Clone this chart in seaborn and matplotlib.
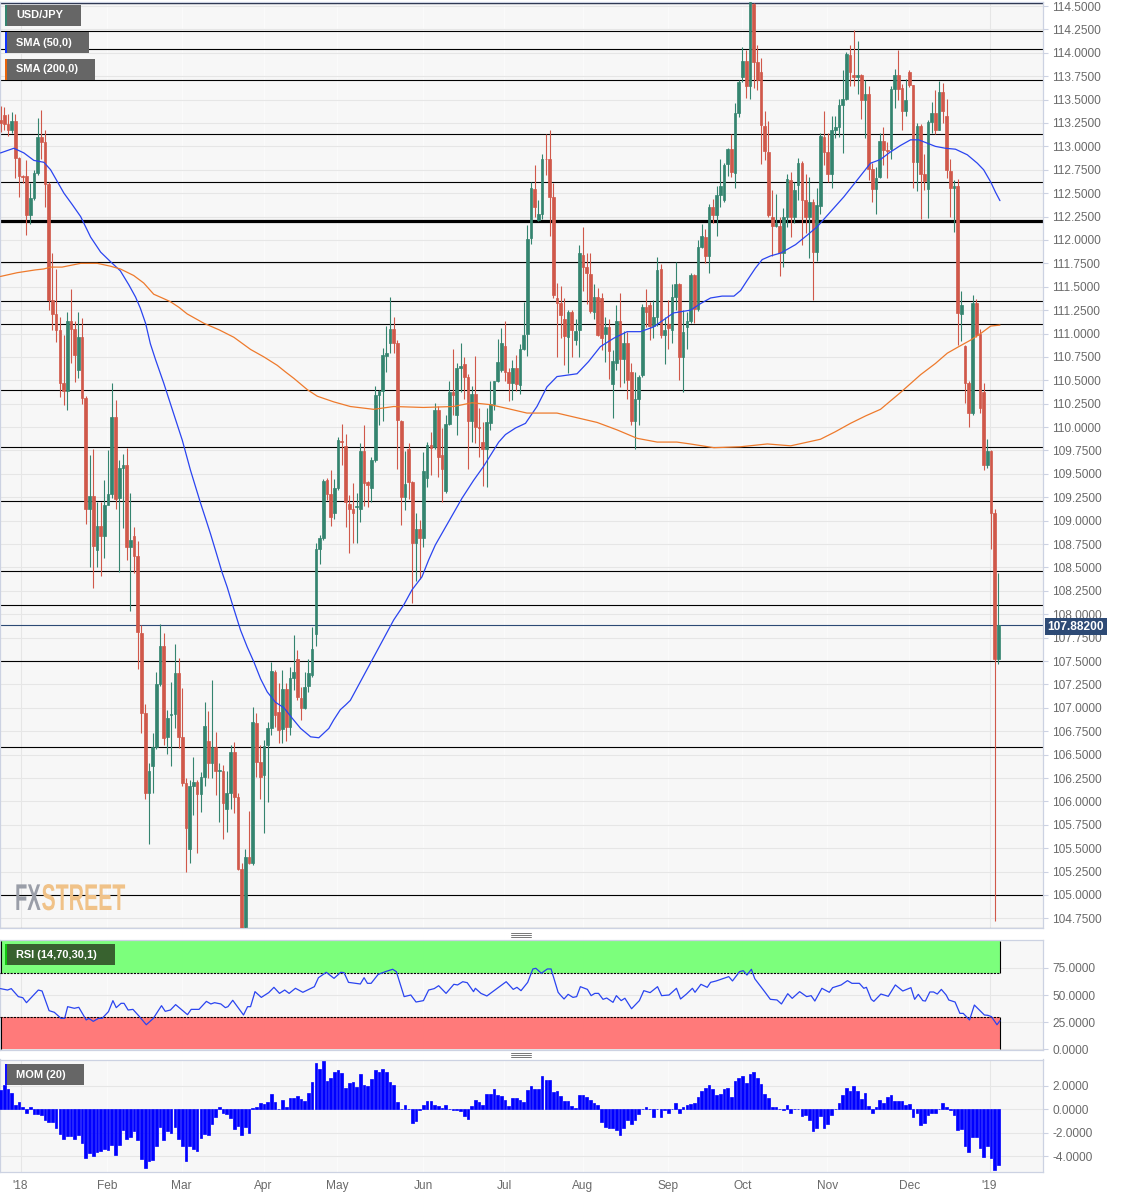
import numpy as np
import pandas as pd
import matplotlib
matplotlib.use("Agg")
import matplotlib.pyplot as plt
from matplotlib.patches import Rectangle
from matplotlib.patheffects import AbstractPathEffect
from matplotlib.transforms import Affine2D
import seaborn as sns

# Daily USD/JPY candles
opens = [
    113.28, 113.34, 113.24, 113.17, 113.27, 112.88, 112.68, 112.68, 112.27, 112.45,
    112.72, 113.10, 113.05, 112.60, 111.36, 111.21, 111.04, 110.47, 110.39, 111.13,
    111.05, 110.61, 110.96, 110.31, 109.13, 109.26, 108.69, 108.94, 108.84, 109.17,
    109.29, 110.11, 109.24, 109.56, 109.59, 108.72, 108.84, 108.62, 107.80, 106.94,
    106.09, 106.38, 106.58, 107.25, 107.66, 106.69, 106.92, 106.93, 107.37, 106.69,
    106.20, 105.49, 106.16, 106.21, 106.08, 106.26, 106.65, 106.41, 106.58, 106.32,
    106.33, 105.92, 106.09, 106.53, 106.05, 105.28, 104.66, 105.41, 105.34, 106.84,
    106.42, 106.28, 106.60, 106.78, 107.38, 106.96, 106.77, 107.20, 106.80, 107.32,
    107.52, 107.11, 107.00, 107.23, 107.35, 107.79, 108.70, 108.81, 109.43, 109.29,
    109.08, 109.35, 109.85, 109.80, 109.18, 109.12, 109.15, 109.12, 109.74, 109.41,
    109.35, 109.65, 110.34, 110.39, 110.76, 110.90, 111.05, 110.90, 110.07, 109.25,
    109.77, 109.41, 108.76, 108.91, 108.81, 109.46, 109.81, 109.79, 110.18, 109.70,
    109.32, 110.03, 110.37, 110.13, 110.63, 110.67, 110.54, 110.06, 110.35, 110.00,
    109.84, 109.77, 110.04, 110.25, 110.49, 110.61, 110.87, 110.59, 110.47, 110.63,
    110.45, 110.84, 110.99, 112.02, 112.54, 112.21, 112.28, 112.87, 112.87, 112.46,
    111.38, 111.33, 111.16, 110.96, 111.23, 110.93, 111.04, 111.84, 111.71, 111.64,
    111.23, 111.39, 111.38, 111.00, 111.07, 110.46, 110.68, 111.13, 110.73, 110.90,
    110.59, 110.06, 110.30, 110.56, 111.28, 111.31, 111.08, 111.18, 111.69, 110.98,
    111.10, 111.04, 111.39, 111.53, 110.75, 111.07, 111.13, 111.63, 111.26, 111.92,
    112.03, 111.83, 112.35, 112.27, 112.48, 112.43, 112.81, 112.97, 112.72, 113.36,
    113.74, 113.91, 113.64, 114.52, 113.90, 113.79, 113.22, 112.94, 112.25, 112.15,
    112.15, 111.86, 112.24, 112.64, 112.25, 112.59, 112.82, 112.43, 112.25, 112.41,
    111.87, 112.36, 113.10, 112.94, 112.71, 113.17, 113.21, 113.44, 113.51, 113.98,
    113.76, 113.74, 113.76, 113.50, 113.56, 112.76, 112.54, 112.67, 113.06, 112.96,
    112.97, 113.61, 113.76, 113.62, 113.38, 113.80, 113.66, 112.83, 113.22, 112.70,
    112.54, 113.26, 113.36, 113.18, 113.58, 113.33, 112.74, 112.55, 112.58, 111.21,
    110.87, 110.47, 110.15, 111.33, 110.99, 110.37, 109.60, 109.74, 109.08, 107.52,
]
closes = [
    113.25, 113.24, 113.17, 113.27, 112.88, 112.68, 112.67, 112.27, 112.45, 112.72,
    113.10, 113.05, 112.60, 111.36, 111.21, 111.04, 110.47, 110.39, 111.13, 111.05,
    110.77, 110.96, 110.31, 109.13, 109.26, 108.73, 108.94, 108.84, 109.17, 109.29,
    110.11, 109.23, 109.56, 109.59, 108.72, 108.79, 108.62, 107.81, 106.94, 106.09,
    106.32, 106.58, 107.25, 107.66, 106.68, 106.89, 106.93, 107.37, 106.69, 106.20,
    105.72, 106.16, 106.21, 106.08, 106.26, 106.81, 106.41, 106.58, 106.32, 106.34,
    105.98, 106.09, 106.53, 106.05, 105.28, 104.64, 105.41, 105.34, 106.85, 106.42,
    106.26, 106.59, 106.78, 107.39, 106.92, 106.76, 107.20, 106.80, 107.32, 107.38,
    107.12, 107.00, 107.22, 107.37, 107.63, 108.70, 108.81, 109.42, 109.29, 109.04,
    109.35, 109.86, 109.84, 109.20, 109.12, 109.08, 109.16, 109.74, 109.40, 109.38,
    109.65, 110.34, 110.39, 110.77, 110.79, 111.05, 110.90, 110.08, 109.25, 109.39,
    109.41, 108.76, 108.91, 108.82, 109.53, 109.81, 109.78, 110.18, 109.68, 109.55,
    110.03, 110.37, 110.34, 110.63, 110.65, 110.54, 110.06, 110.35, 110.00, 109.99,
    109.77, 110.05, 110.25, 110.49, 110.70, 110.90, 110.59, 110.47, 110.63, 110.46,
    110.84, 110.98, 112.01, 112.55, 112.35, 112.28, 112.87, 112.86, 112.46, 111.41,
    111.33, 111.20, 110.97, 111.23, 111.04, 111.03, 111.86, 111.71, 111.65, 111.24,
    111.39, 110.98, 110.95, 111.07, 110.81, 110.71, 111.13, 110.73, 110.90, 110.50,
    110.06, 110.30, 110.54, 111.28, 111.23, 111.08, 111.18, 111.68, 110.98, 111.04,
    111.06, 111.39, 111.53, 110.75, 111.02, 111.13, 111.63, 111.26, 111.93, 112.04,
    111.83, 112.35, 112.27, 112.48, 112.58, 112.80, 112.97, 112.73, 113.36, 113.69,
    113.91, 113.64, 114.54, 113.90, 113.71, 113.23, 112.95, 112.27, 112.15, 112.18,
    111.86, 112.24, 112.65, 112.25, 112.53, 112.82, 112.43, 112.25, 112.41, 111.87,
    112.37, 113.11, 112.94, 112.71, 113.17, 113.21, 113.44, 113.51, 113.99, 113.79,
    113.74, 113.76, 113.50, 113.56, 112.76, 112.54, 112.66, 113.06, 112.96, 112.95,
    113.61, 113.76, 113.61, 113.38, 113.50, 113.66, 112.83, 113.22, 112.70, 112.63,
    113.26, 113.36, 113.18, 113.58, 113.38, 112.75, 112.55, 112.58, 111.22, 111.30,
    110.47, 110.15, 111.33, 110.98, 110.20, 109.60, 109.74, 109.08, 107.52, 107.88,
]
highs = [
    113.43, 113.42, 113.35, 113.37, 113.35, 112.89, 112.69, 112.85, 112.61, 112.75,
    113.30, 113.39, 113.17, 112.62, 111.86, 111.69, 111.18, 110.98, 111.23, 111.48,
    111.13, 111.23, 111.17, 110.33, 109.70, 109.77, 109.20, 109.20, 109.44, 109.75,
    110.47, 110.29, 109.65, 109.71, 109.78, 109.30, 108.93, 108.78, 107.89, 107.04,
    106.41, 106.73, 107.38, 107.90, 107.80, 106.98, 107.28, 107.68, 107.53, 107.21,
    106.25, 106.23, 106.47, 106.23, 106.31, 107.06, 106.97, 107.30, 106.74, 106.41,
    106.39, 106.32, 106.60, 106.64, 106.09, 105.34, 105.49, 105.90, 107.01, 106.94,
    106.60, 106.66, 106.85, 107.49, 107.40, 107.26, 107.40, 107.26, 107.44, 107.78,
    107.62, 107.22, 107.38, 107.52, 107.86, 108.76, 108.85, 109.45, 109.46, 109.54,
    109.45, 109.89, 110.03, 109.93, 109.27, 109.40, 109.30, 109.83, 110.02, 109.42,
    109.68, 110.44, 110.40, 110.85, 111.08, 111.39, 111.18, 110.93, 110.08, 109.74,
    109.83, 109.42, 109.08, 109.01, 109.73, 109.84, 109.95, 110.26, 110.23, 109.99,
    110.13, 110.49, 110.84, 110.69, 110.90, 110.75, 110.57, 110.44, 110.76, 110.20,
    110.05, 110.20, 110.49, 110.49, 110.94, 111.06, 111.13, 110.63, 110.72, 110.77,
    110.89, 111.34, 112.16, 112.62, 112.80, 112.43, 112.92, 113.13, 113.17, 112.61,
    111.54, 111.51, 111.38, 111.25, 111.25, 111.16, 111.95, 112.14, 111.86, 111.86,
    111.53, 111.49, 111.43, 111.18, 111.16, 110.82, 111.30, 111.43, 111.03, 111.02,
    110.69, 110.59, 110.56, 111.32, 111.48, 111.34, 111.36, 111.82, 111.74, 111.18,
    111.36, 111.53, 111.76, 111.54, 111.25, 111.23, 111.65, 111.64, 112.00, 112.17,
    112.12, 112.38, 112.44, 112.58, 112.87, 112.82, 112.98, 113.13, 113.46, 113.71,
    114.06, 114.03, 114.54, 114.53, 114.08, 113.94, 113.38, 113.27, 112.53, 112.49,
    112.25, 112.34, 112.71, 112.73, 112.62, 112.88, 112.84, 112.71, 112.67, 112.44,
    112.56, 113.14, 113.38, 113.14, 113.32, 113.33, 113.51, 113.82, 114.01, 114.08,
    114.24, 114.13, 113.77, 113.71, 113.64, 112.82, 112.78, 113.14, 113.21, 113.05,
    113.65, 113.83, 114.03, 113.67, 113.72, 113.82, 113.66, 113.25, 113.24, 112.92,
    113.28, 113.47, 113.60, 113.70, 113.68, 113.51, 112.86, 112.64, 112.65, 111.45,
    110.88, 110.49, 111.41, 111.37, 111.05, 110.47, 109.87, 109.76, 109.12, 108.44,
]
lows = [
    113.15, 113.18, 113.11, 113.14, 112.66, 112.46, 112.61, 112.05, 112.17, 112.43,
    112.69, 112.87, 112.35, 111.25, 111.04, 110.91, 110.32, 110.24, 110.18, 110.68,
    110.48, 110.52, 110.25, 108.96, 108.50, 108.28, 108.51, 108.41, 108.60, 109.19,
    109.24, 109.12, 108.45, 108.92, 108.58, 108.04, 108.44, 107.41, 106.73, 106.03,
    105.55, 106.09, 106.56, 107.23, 106.60, 106.51, 106.38, 106.78, 106.57, 106.16,
    105.25, 105.34, 105.85, 105.45, 105.89, 106.16, 106.25, 106.25, 106.07, 105.78,
    105.60, 105.67, 105.92, 105.88, 105.27, 104.63, 104.62, 105.33, 105.32, 106.26,
    106.03, 105.66, 105.99, 106.71, 106.80, 106.62, 106.62, 106.65, 106.71, 107.19,
    107.08, 106.87, 106.99, 107.17, 107.33, 107.66, 108.54, 108.79, 109.22, 108.94,
    109.02, 109.33, 109.59, 108.93, 108.65, 108.76, 108.76, 108.99, 109.16, 109.15,
    109.20, 109.63, 110.02, 110.07, 110.59, 110.79, 110.79, 109.55, 108.95, 109.11,
    109.23, 108.12, 108.35, 108.38, 108.72, 109.36, 109.49, 109.77, 109.47, 109.20,
    109.30, 110.02, 110.13, 109.92, 110.38, 110.30, 109.55, 109.84, 109.83, 109.68,
    109.37, 109.36, 109.97, 110.18, 110.48, 110.59, 110.49, 110.28, 110.29, 110.39,
    110.35, 110.82, 110.76, 111.96, 112.25, 112.20, 112.22, 112.69, 112.04, 111.38,
    110.75, 110.95, 110.66, 110.58, 110.75, 110.88, 110.75, 111.45, 111.32, 111.22,
    111.15, 110.97, 110.82, 110.70, 110.51, 110.10, 110.61, 110.43, 110.47, 110.30,
    110.02, 109.77, 110.02, 110.54, 111.07, 110.93, 110.95, 111.08, 110.95, 110.67,
    110.84, 110.90, 111.25, 110.50, 110.37, 110.84, 111.11, 111.11, 111.24, 111.91,
    111.75, 111.65, 112.18, 112.04, 112.35, 112.41, 112.68, 112.67, 112.55, 113.31,
    113.69, 113.52, 113.51, 113.62, 113.60, 112.81, 112.85, 112.25, 111.83, 112.14,
    111.61, 111.71, 112.14, 112.03, 112.18, 112.43, 111.95, 112.07, 111.81, 111.36,
    111.77, 112.28, 112.80, 112.62, 112.55, 113.09, 113.10, 112.93, 113.50, 113.64,
    113.65, 113.56, 113.29, 113.09, 112.64, 112.41, 112.28, 112.66, 112.80, 112.66,
    112.87, 113.41, 113.50, 113.17, 113.33, 113.63, 112.56, 112.52, 112.22, 112.53,
    112.23, 113.14, 113.13, 113.17, 113.25, 112.66, 112.25, 112.08, 110.88, 110.92,
    110.26, 110.00, 110.13, 110.96, 110.15, 109.54, 109.56, 108.70, 104.72, 107.47,
]

# Moving averages, read at the places where the curves bend (sorted by lineplot)
sma50_x = [0, 3.6, 6.3, 9, 11.7, 13.5, 17.1, 21.6, 27, 32.3, 36.4, 39.1, 41.8, 46.7, 51.2,
           53.9, 56.6, 59.7, 62.4, 64.7, 68.3, 71.9, 76.4, 80.9, 83.6, 85.8, 88.5, 91.6, 94.3,
           106, 110.9, 113.6, 117.2, 124.4, 130.2, 134.3, 136.1, 141.5, 147.3, 150, 155.4,
           161.7, 168.9, 172.5, 176, 181.4, 186, 191.4, 197.7, 201.3, 205.3, 210.3, 214.3,
           220.1, 227.3, 234.5, 239.5, 245.3, 247.5, 252, 257.4, 263.3, 266.9, 269.4,
           19.3, 24.3, 29.6, 34.6, 37.7, 40.4, 44, 49, 55.3, 58.2, 61.1, 66.5, 70.1, 74.1, 78.6,
           89.8, 93, 108.7, 115.4, 120.8, 127.5, 138.8, 144.6, 158.5, 165.3, 188.7, 194.5, 199.5,
           203.5, 207.6, 217.4, 223.7, 230.9, 237.2, 242.6, 254.7, 260.6, 265, 268.2]
sma50 = [112.93, 112.98, 112.93, 112.85, 112.83, 112.75, 112.50, 112.25, 111.87, 111.67, 111.39,
         111.11, 110.72, 110.14, 109.54, 109.19, 108.86, 108.45, 108.12, 107.83, 107.49, 107.17,
         107.00, 106.78, 106.69, 106.68, 106.78, 106.98, 107.08, 107.94, 108.26, 108.40, 108.74,
         109.24, 109.58, 109.84, 109.92, 110.04, 110.43, 110.54, 110.57, 110.86, 111.02, 111.02,
         111.07, 111.22, 111.25, 111.38, 111.40, 111.57, 111.79, 111.86, 111.95, 112.14, 112.46,
         112.82, 112.93, 113.07, 113.07, 113.00, 112.97, 112.82, 112.62, 112.42,
         112.38, 112.03, 111.77, 111.52, 111.27, 110.89, 110.47, 109.86, 109.02, 108.65, 108.29,
         107.65, 107.31, 107.06, 106.89, 106.87, 107.03, 108.10, 108.58, 108.99, 109.43, 109.99,
         110.22, 110.70, 110.95, 111.32, 111.40, 111.46, 111.70, 111.83, 112.05, 112.30, 112.64,
         112.86, 113.01, 112.98, 112.91, 112.75, 112.51]
sma200_x = [0, 4.5, 9.4, 13.5, 16.6, 21.6, 26.1, 32.3, 35.9, 41.3, 45.8, 50.3, 54.8, 62.9, 67.4,
            74.6, 79.1, 82.7, 85.4, 89.8, 94.3, 100.6, 106, 114, 122.1, 127.1, 132, 141.9, 150,
            160.8, 171.6, 177, 182.3, 185.9, 192.3, 199.5, 206.7, 213, 221, 229.1, 237.2, 248,
            255.2, 261.5, 266.9, 269.4,
            11.7, 29.6, 38.6, 43.6, 48.1, 58.9, 71, 76.8, 87.6, 136.5, 155.4, 166.2,
            225, 233.2, 242.6, 252, 258.3, 264.2]
sma200 = [111.61, 111.65, 111.68, 111.71, 111.71, 111.75, 111.75, 111.69, 111.62, 111.42, 111.34,
          111.21, 111.11, 110.96, 110.83, 110.66, 110.52, 110.40, 110.33, 110.27, 110.22, 110.19,
          110.22, 110.21, 110.22, 110.26, 110.24, 110.15, 110.15, 110.05, 109.88, 109.84, 109.84,
          109.82, 109.78, 109.79, 109.82, 109.80, 109.87, 110.04, 110.19, 110.56, 110.79, 110.93,
          111.08, 111.09,
          111.69, 111.72, 111.54, 111.38, 111.28, 111.04, 110.75, 110.59, 110.30, 110.20, 110.10,
          109.97, 109.95, 110.12, 110.37, 110.68, 110.86, 111.00]

rsi_x = [0, 1.9, 2.9, 4.8, 6, 7, 10.2, 11.2, 13.1, 14.5, 16.3, 17.3, 18.1, 19.9, 21.1, 23.1, 23.8,
         25, 26.4, 27.4, 29.1, 30.3, 31.2, 32.5, 33.3, 34.4, 35.7, 37.3, 39.3, 41.2, 43.4, 44.4,
         45.8, 47.2, 50.4, 51.4, 53.5, 55.5, 56.7, 57.7, 59.4, 60.6, 61.3, 62.6, 65.5, 66.6, 67.4,
         68.6, 70.3, 72.3, 73.7, 75.2, 76.6, 77.8, 79.5, 81.5, 84.6, 85.7, 87.8, 89.9, 91.7, 92.6,
         93.8, 97, 98, 98.9, 99.9, 101.8, 104, 105.7, 106.7, 108.8, 110.6, 112, 114, 115.4, 116.9,
         118.1, 120.1, 122.2, 123.2, 124.6, 125.8, 127.5, 128, 129.5, 131.1, 136.3, 138.2, 139.2,
         140.3, 142.1, 143.5, 144.3, 145.8, 147.4, 148.4, 150.3, 150.9, 151.9, 153, 154.3, 155.3,
         156.3, 158.2, 159.2, 160.2, 161.2, 162.4, 163.4, 165.1, 166, 167.3, 168.3, 170.1, 172.2,
         173.4, 175.1, 177.1, 178.2, 180.2, 182.2, 183.3, 184.9, 186.5, 187.2, 188.8, 190.5, 191.4,
         192.9, 196.3, 197.3, 199.2, 200.2, 201.2, 202.4, 203.3, 206.1, 207.5, 209.3, 210.5, 212.2,
         213.4, 215.4, 217.3, 218.5, 219.5, 221.4, 223.4, 224.3, 226.6, 228.3, 229.5, 231.5, 232.7,
         233.4, 234.7, 235.4, 237.3, 239.3, 241.2, 243.2, 245.4, 246.4, 247.4, 248.6, 249.3, 250.5,
         251.5, 252.5, 253.6, 254.9, 255.6, 257.3, 258.6, 259.5, 261.2, 262.5, 265.2, 266.1, 267.1,
         268.6, 269.4]
rsi = [55.9, 54.6, 55.9, 48.5, 47.5, 42.9, 54.6, 53.7, 35.5, 34, 28.4, 28.4, 39.2, 37.7, 38.6, 26.9,
       28.4, 25.6, 28.4, 28.4, 34.6, 44.8, 38.3, 42.3, 42.3, 36.1, 36.7, 30.6, 22.5, 28.4, 40.1, 34.9,
       36.1, 41.1, 31.8, 36.7, 36.7, 44.1, 41.7, 42.9, 41.7, 38.3, 39.2, 45.1, 31.5, 39.2, 39.2, 53.1,
       47.8, 52.2, 57.1, 51.5, 54.6, 51.5, 56.2, 52.5, 57.7, 66, 71, 65.4, 71, 70.7, 61.7, 60.2, 66,
       60.8, 60.8, 69.1, 71.9, 73.8, 71.6, 48.5, 50, 43.5, 44.8, 54.6, 55.9, 58.6, 51.5, 59.9, 59.3,
       62.3, 61.4, 53.1, 56.2, 51.5, 49.1, 62.3, 55.2, 57.1, 54, 61.7, 74.1, 74.7, 70.1, 74.1, 74.1,
       52.5, 50, 46.3, 50.6, 47.8, 48.5, 57.7, 55.2, 49.4, 51.5, 51.5, 46, 47.2, 43.2, 49.4, 44.8, 47,
       37.3, 44.8, 54, 52.2, 57.7, 49.4, 50, 56.2, 46.3, 50.9, 56.2, 52.5, 59.9, 57.1, 61.7, 63, 67,
       63, 71.6, 72.5, 68.5, 73.8, 65.1, 52.5, 46, 45.4, 41.7, 51.2, 46.9, 53.1, 48.5, 49.4, 44.4,
       56.2, 52.5, 56.8, 59.3, 63.3, 60.8, 60.8, 56.2, 57.1, 46, 44.1, 50.9, 48.8, 59.3, 53.7, 56.8,
       46, 50.6, 44.8, 44.4, 52.8, 52.8, 50.9, 55.2, 50, 45.4, 43.5, 33, 33, 26.9, 40.7, 31.5, 31.2,
       30, 22.5, 26.2]

mom = [1.6, 2.1, 1.7, 1.4, .37, .6, .17, -.28, .23, -.37, -.42, -.48, -.9, -1.1, -1.04, -1.55, -2.1,
       -2.5, -2.25, -2.25, -2.5, -2.2, -2.87, -4.14, -3.7, -3.94, -3.66, -3.5, -3.38, -3.44, -3.0,
       -3.86, -3, -1.75, -2.5, -2.37, -1.83, -2.6, -4.2, -5, -4.4, -4.34, -3.1, -1.46, -2.6, -1.86,
       -1.97, -1.46, -2.48, -3.1, -4.4, -3.1, -3.35, -3.5, -2.45, -2.08, -2.17, -1.24, -.62, .23,
       -.34, -.42, -.7, -1.63, -1.41, -2.14, -1.46, -2.03, .14, .23, .5, .42, .6, 1.3, .65, .05, .8,
       .17, 1, 1, 1.13, .87, .7, 1.35, 2.34, 3.97, 3.4, 4.1, 2.42, 2.62, 3.13, 3.3, 3.07, 1.77, 2.2,
       2.31, 1.92, 2.96, 2.06, 1.97, 2.56, 3.32, 3.18, 3.4, 3.15, 2.34, 2.08, .62, .03, .34, .03,
       -1.13, -.96, -.06, .39, .73, .68, .37, .25, .14, .37, 0, -.05, -.08, -.11, -.54, -.85, .28,
       .76, .6, .39, 1.3, 1.32, 1.69, 1.18, 1.1, .8, .31, .93, .93, .82, .65, 1.66, 1.94, 1.69, 1.75,
       2.82, 2.48, 2.48, 1.44, 1.58,
       1.13, .7, .73, .31, .11, 1.24, 1.21, 1.01, .79, .54, .37, -1.04, -1.46, -1.55, -1.6, -1.72,
       -2.14, -1.55, -.87, -1.27, -.9, -.42, .03, .17, 0, -.68, 0, -.68, -.08, -.34, 0, .56, -.34, .2,
       .39, .48, .5, 1.04, 1.55, 1.77, 2.06, 1.72, 1.21, 1.3, 1.72, 1.77, 1.04, 2.39, 2.68, 2.87,
       2.23, 3.01, 3.15, 2.7, 2.11, 1.32, .99, .23, .17, .03, -.08, .37, -.28, .03, 0, -.54, -.48,
       -.93, -1.83, -1.55, -.54, -1.6, -1.21, -.51, 0, .51, 1.24, 1.83, 1.58, 2, 1.55, .85, 1.38, .28,
       -.28, .23, .79, .54, 1.04, 1.24, .68, .7, .7, .34, .45, -.62, -.28, -1.3, -1.18, -.48, -.34,
       -.31, 0, .56, .2, -.08, -.45, -1.75, -1.63, -3.15, -3.63, -2.31, -2.39, -3.3, -4.06, -3.1,
       -4.14, -5.18, -4.76]

# Horizontal support / resistance levels drawn on the chart
levels = [114.23, 114.04, 113.71, 113.13, 112.62, 111.76, 111.35, 111.10, 110.40, 109.79,
          109.21, 108.46, 108.10, 107.50, 106.58, 105.00, 104.65]
main_level = 112.20
last_price = 107.882

month_labels = ["'18", "Feb", "Mar", "Apr", "May", "Jun", "Jul", "Aug", "Sep", "Oct", "Nov", "Dec", "'19"]
month_pos = [5.4, 28.8, 48.8, 70.9, 90.8, 114, 135.8, 156.9, 180, 200, 222.9, 245, 266.6]

W, H = 1127, 1198
UP = "#34846f"
DOWN = "#d0584a"
GRID = "#e6e6e6"
EDGE = "#ccd2e2"
LABEL = "#6a6a6a"
PANEL = "#f7f7f7"
XMIN, XMAX = -0.135, 281.0


class Stretch(AbstractPathEffect):
    # makes the glyphs taller around the baseline, the logo lettering is condensed
    def __init__(self, y0, sy):
        super().__init__()
        self.y0, self.sy = y0, sy

    def draw_path(self, renderer, gc, tpath, affine, rgbFace=None):
        tall = Affine2D().translate(0, -self.y0).scale(1, self.sy).translate(0, self.y0)
        renderer.draw_path(gc, tpath, affine + tall, rgbFace)


def panel(top, bottom, ylim, ticks):
    ax = fig.add_axes([0, 1 - bottom / H, 1043 / W, (bottom - top) / H])
    ax.set_facecolor(PANEL)
    ax.set_xlim(XMIN, XMAX)
    ax.set_ylim(*ylim)
    ax.yaxis.tick_right()
    ax.set_yticks(ticks)
    ax.set_yticklabels([f"{t:.4f}" for t in ticks])
    ax.set_xticks(month_pos)
    ax.set_xticklabels([])
    ax.grid(True, axis="y", color=GRID, lw=0.8)
    ax.grid(True, axis="x", color="#fbfbfb", lw=0.8)
    ax.set_axisbelow(True)
    ax.tick_params(axis="y", length=3.6, width=0.8, color=EDGE, labelcolor=LABEL, labelsize=8.6, pad=3)
    ax.tick_params(axis="x", length=0)
    ax.set_xlabel("")
    ax.set_ylabel("")
    for side in ax.spines.values():
        side.set_color(EDGE)
        side.set_linewidth(0.9)
        side.set_visible(True)
    return ax


def tag(text, top, bottom, right, stripe, fill="#666666"):
    fig.add_artist(Rectangle((5 / W, 1 - bottom / H), (right - 5) / W, (bottom - top) / H,
                             transform=fig.transFigure, color=fill, lw=0))
    fig.add_artist(Rectangle((5 / W, 1 - bottom / H), 2 / W, (bottom - top) / H,
                             transform=fig.transFigure, color=stripe, lw=0))
    fig.text(16 / W, 1 - (top + bottom) / 2 / H, text, color="white", fontsize=7.9,
             fontweight="bold", va="center", ha="left")


def grip(y):
    for dy in (-2, 0, 2):
        fig.add_artist(plt.Line2D([511 / W, 531 / W], [1 - (y + dy) / H] * 2,
                                  transform=fig.transFigure, color="#777777", lw=0.7))


sns.set_theme(style="white")
plt.rcParams["font.family"] = ["Liberation Sans", "DejaVu Sans"]

df = pd.DataFrame({"open": opens, "high": highs, "low": lows, "close": closes})
df["x"] = np.arange(len(df))
df["color"] = np.where(df["close"] >= df["open"], UP, DOWN)

fig = plt.figure(figsize=(W / 100, H / 100), dpi=100, facecolor="white")

# Price panel
price_ticks = [104.75 + 0.25 * k for k in range(40)]
ax = panel(2, 928, (104.647, 114.543), price_ticks)
for lev in levels:
    ax.axhline(lev, color="black", lw=0.8, zorder=2)
ax.axhline(main_level, color="black", lw=2.3, zorder=2)
ax.axhline(114.535, color="#1a2440", lw=1, zorder=2)
ax.axhline(last_price, color="#2d4a75", lw=0.8, zorder=2)

ax.vlines(df["x"], df["low"], df["high"], colors=df["color"], lw=0.8, zorder=3)
ax.bar(df["x"], (df["close"] - df["open"]).abs(), bottom=df[["open", "close"]].min(axis=1),
       width=0.72, color=df["color"], edgecolor=df["color"], lw=0.5, zorder=4)

sns.lineplot(x=sma50_x, y=sma50, color="#2a44f0", lw=0.9, ax=ax, zorder=5, estimator=None)
sns.lineplot(x=sma200_x, y=sma200, color="#ee7a2c", lw=0.9, ax=ax, zorder=5, estimator=None)
ax.set_xlim(XMIN, XMAX)
ax.set_ylim(104.647, 114.543)
ax.set_xlabel("")
ax.set_ylabel("")

# RSI panel
ax_rsi = panel(940, 1050, (-0.9, 100.9), [0, 25, 50, 75])
ax_rsi.fill_between([XMIN, 269.3], 70, 100, color="#7cff7c", lw=0, zorder=2)
ax_rsi.fill_between([XMIN, 269.3], 0, 30, color="#ff7a7a", lw=0, zorder=2)
for lim in (70, 30):
    ax_rsi.plot([XMIN, 269.3], [lim, lim], color="black", lw=0.8, ls=(0, (2, 1)), zorder=3)
ax_rsi.vlines([XMIN + 0.2, 269.3], [70, 70], [100, 100], color="black", lw=0.8, zorder=3)
ax_rsi.vlines([XMIN + 0.2, 269.3], [0, 0], [30, 30], color="black", lw=0.8, zorder=3)
sns.lineplot(x=rsi_x, y=rsi, color="#2a44f0", lw=0.9, ax=ax_rsi, zorder=4, estimator=None)
ax_rsi.set_xlim(XMIN, XMAX)
ax_rsi.set_ylim(-0.9, 100.9)
ax_rsi.set_xlabel("")
ax_rsi.set_ylabel("")

# Momentum panel
ax_mom = panel(1059.5, 1172, (-5.32, 4.23), [-4, -2, 0, 2])
mom_x = np.arange(len(mom)) + len(df) - len(mom)
sns.barplot(x=mom_x, y=mom, native_scale=True, color="#0000ff", saturation=1, width=0.72,
            errorbar=None, edgecolor="#0000ff", lw=0.5, ax=ax_mom, zorder=3)
ax_mom.set_xlim(XMIN, XMAX)
ax_mom.set_ylim(-5.32, 4.23)
ax_mom.set_yticks([-4, -2, 0, 2])
ax_mom.set_yticklabels(["-4.0000", "-2.0000", "0.0000", "2.0000"])
ax_mom.set_xticks(month_pos)
ax_mom.set_xticklabels(month_labels)
ax_mom.tick_params(axis="x", length=3, width=0.8, color=EDGE, labelcolor=LABEL, labelsize=8.6, pad=3)
ax_mom.set_xlabel("")
ax_mom.set_ylabel("")

# The first and last month lines show stronger than the others
for a in (ax, ax_rsi, ax_mom):
    for pos in (month_pos[0], month_pos[-1]):
        a.axvline(pos, color=GRID, lw=0.8, zorder=1)

# Last price flag
fig.text(1076 / W, 1 - 626.5 / H, f"{last_price:.5f}", color="white", fontsize=8.6, fontweight="bold",
         ha="center", va="center",
         bbox=dict(boxstyle="square,pad=0.22", fc="#2d4a75", ec="none"))

tag("USD/JPY", 5, 26, 81, UP)
tag("SMA (50,0)", 32, 53, 89, "#1034ff")
tag("SMA (200,0)", 59, 80, 95, "#e8640a")
tag("RSI (14,70,30,1)", 944, 965, 115, "#10c810", fill="#38622f")
tag("MOM (20)", 1064, 1085, 84, "#1010ff")
grip(935)
grip(1055)

# Watermark logo, two colours so two texts
logo_base = H - 910
fig.text(15 / W, logo_base / H, "FX", color="#9a9ea8", fontsize=14.5, fontweight="bold",
         va="baseline", path_effects=[Stretch(logo_base, 1.85)])
fig.text(41.5 / W, logo_base / H, "STREET", color="#f0c288", fontsize=15.3, fontweight="bold",
         va="baseline", path_effects=[Stretch(logo_base, 1.75)])

fig.savefig("out.png", dpi=100, facecolor="white")
